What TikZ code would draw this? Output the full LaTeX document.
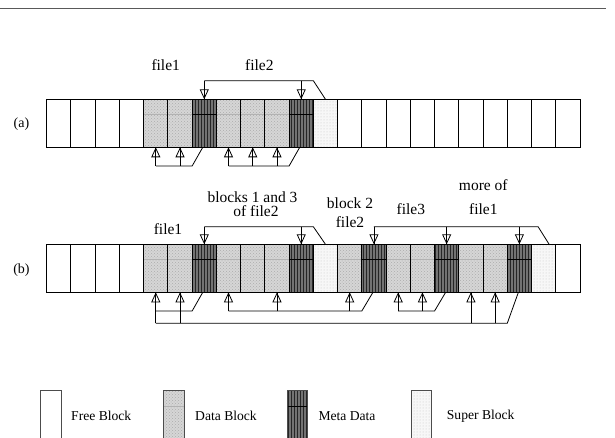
\documentclass[tikz,border=0pt]{standalone}
\usepackage{fontspec}
\setmainfont{Liberation Serif}
\usetikzlibrary{patterns,arrows.meta,calc}
\begin{document}
\begin{tikzpicture}[x=1pt,y=-1pt,
  blk/.style={draw=black, line width=0.9pt, minimum width=24.24pt, minimum height=48pt, inner sep=0pt, outer sep=0pt, anchor=north west},
  blkF/.style={blk, fill=white},
  blkD/.style={blk, preaction={fill=gray!32}, pattern=crosshatch dots, pattern color=gray!65,
    path picture={\draw[gray!60, line width=0.5pt] ($(path picture bounding box.north west)+(0,15)$) -- ($(path picture bounding box.north east)+(0,15)$);}},
  blkM/.style={blk, preaction={fill=black!55}, pattern=vertical lines, pattern color=black!85,
    path picture={\draw[black, line width=0.7pt] ($(path picture bounding box.north west)+(0,15)$) -- ($(path picture bounding box.north east)+(0,15)$);}},
  blkS/.style={blk, preaction={fill=gray!6}, pattern=dots, pattern color=gray!45},
  lgd/.style={draw=black!70, line width=0.9pt, minimum width=20.5pt, minimum height=60pt, inner sep=0pt, anchor=north west},
  conn/.style={draw=black, line width=0.8pt},
  arr/.style={conn, -{Triangle[open,length=10pt,width=9pt,line width=0.8pt]}, postaction={draw,-}},
  lbl/.style={font=\fontsize{15.5}{18}\selectfont, inner sep=0pt, align=center},
  lgt/.style={font=\fontsize{13.6}{16}\selectfont, inner sep=0pt, anchor=west}
]
\useasboundingbox (0,0) rectangle (615,438);
\clip (0,0) rectangle (615,438);

% top rule
\draw[gray!70!black, line width=1.4pt] (0,8.7) coordinate (r0) -- (605.7,8.7) coordinate (r1);

% rows of blocks
\foreach \t [count=\i] in {F,F,F,F,D,D,M,D,D,D,M,S,F,F,F,F,F,F,F,F,F,F}
  \node[blk\t] (a\i) at ({46.7+(\i-1)*24.24}, 99.3) {};
\foreach \t [count=\i] in {F,F,F,F,D,D,M,D,D,D,M,S,D,M,D,D,M,D,D,M,S,F}
  \node[blk\t] (b\i) at ({46.7+(\i-1)*24.24}, 244.3) {};

% row labels
\node[font=\fontsize{14}{16}\selectfont, inner sep=0pt] (la) at (21.5,124) {(a)};
\node[font=\fontsize{14}{16}\selectfont, inner sep=0pt] (lb) at (21.5,270) {(b)};

% labels row a
\node[lbl] (fa1) at (165.7,65) {file1};
\node[lbl] (fa2) at (259.3,65) {file2};

% labels row b
\node[lbl] (fb2a) at (252.5,196.8) {blocks 1 and 3};
\node[lbl] (fb2b) at (256,211.2) {of file2};
\node[lbl] (fb1) at (168,229) {file1};
\node[lbl, font=\fontsize{15.5}{18.4}\selectfont] (fb3) at (350,212.5) {block 2\\file2};
\node[lbl] (fb4) at (410.8,209.3) {file3};
\node[lbl, font=\fontsize{15.5}{24.3}\selectfont] (fb5) at (483.3,197) {more of\\file1};

% helper levels
\coordinate (yta) at (0,80.7);
\coordinate (yba) at (0,166);
\coordinate (ytb) at (0,226.7);
\coordinate (yb1) at (0,311);
\coordinate (yb2) at (0,323.3);

% ---- row a connectors
\draw[conn] (a12.north) -- (a12.north west |- yta) -- (a7.north |- yta);
\draw[arr] (a7.north |- yta) -- (a7.north);
\draw[arr] (a11.north |- yta) -- (a11.north);

\draw[conn] ($(a7.south)+(-1.5,0)$) -- (a7.south west |- yba) -- (a5.south |- yba);
\draw[arr] (a5.south |- yba) -- (a5.south);
\draw[arr] (a6.south |- yba) -- (a6.south);

\draw[conn] ($(a11.south)+(-1.5,0)$) -- (a11.south west |- yba) -- (a8.south |- yba);
\draw[arr] (a8.south |- yba) -- (a8.south);
\draw[arr] (a9.south |- yba) -- (a9.south);
\draw[arr] (a10.south |- yba) -- (a10.south);

% ---- row b connectors (top)
\draw[conn] (b12.north) -- (b12.north west |- ytb) -- (b7.north |- ytb);
\draw[arr] (b7.north |- ytb) -- (b7.north);
\draw[arr] (b11.north |- ytb) -- (b11.north);

\draw[conn] ($(b21.north)+(5.5,0)$) -- ($(b21.north west |- ytb)+(6.6,0)$) -- (b14.north |- ytb);
\draw[arr] (b14.north |- ytb) -- (b14.north);
\draw[arr] (b17.north |- ytb) -- (b17.north);
\draw[arr] (b20.north |- ytb) -- (b20.north);

% ---- row b connectors (bottom)
\draw[conn] ($(b7.south)+(-1.5,0)$) -- (b7.south west |- yb1) -- (b5.south |- yb1);
\draw[conn] ($(b20.south)+(-1,0)$) -- (b20.south west |- yb2) -- (b5.south |- yb2);
\draw[arr] (b5.south |- yb2) -- (b5.south);
\draw[arr] (b6.south |- yb2) -- (b6.south);
\draw[arr] (b18.south |- yb2) -- (b18.south);
\draw[arr] (b19.south |- yb2) -- (b19.south);

\draw[conn] ($(b14.south)+(-1,0)$) -- (b14.south west |- yb1) -- (b8.south |- yb1);
\draw[arr] (b8.south |- yb1) -- (b8.south);
\draw[arr] (b10.south |- yb1) -- (b10.south);
\draw[arr] (b13.south |- yb1) -- (b13.south);

\draw[conn] ($(b17.south)+(-1,0)$) -- (b17.south west |- yb1) -- (b15.south |- yb1);
\draw[arr] (b15.south |- yb1) -- (b15.south);
\draw[arr] (b16.south |- yb1) -- (b16.south);

% ---- legend
\node[lgd, fill=white] (l1) at (40,390) {};
\node[lgd, preaction={fill=gray!32}, pattern=crosshatch dots, pattern color=gray!65,
  path picture={\draw[gray!60, line width=0.5pt] ($(path picture bounding box.north west)+(0,16)$) -- ($(path picture bounding box.north east)+(0,16)$);}] (l2) at (163.3,390) {};
\node[lgd, preaction={fill=black!55}, pattern=vertical lines, pattern color=black!85,
  path picture={\draw[black, line width=0.7pt] ($(path picture bounding box.north west)+(0,16)$) -- ($(path picture bounding box.north east)+(0,16)$);}] (l3) at (286.7,390) {};
\node[lgd, preaction={fill=gray!6}, pattern=dots, pattern color=gray!45] (l4) at (410.7,390) {};

\node[lgt] (t1) at (71,416) {Free Block};
\node[lgt] (t2) at (195,416) {Data Block};
\node[lgt] (t3) at (318.3,416) {Meta Data};
\node[lgt] (t4) at (446.7,416) {Super Block};
\end{tikzpicture}
\end{document}
